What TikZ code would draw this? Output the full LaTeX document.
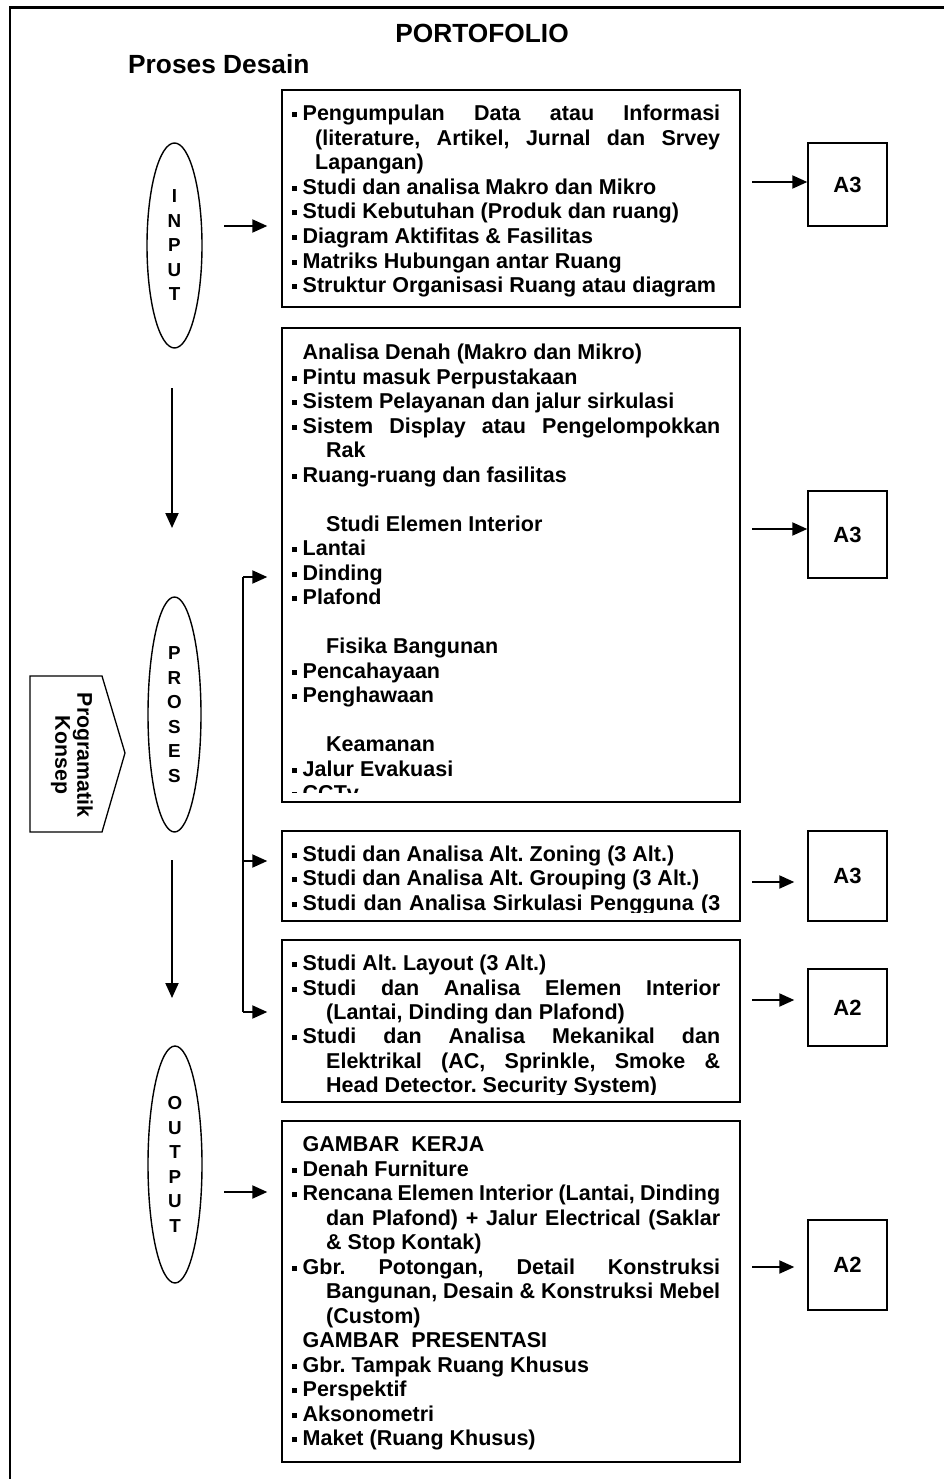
\documentclass[tikz,border=0pt]{standalone}
\usepackage{fontspec}
\setmainfont{Liberation Sans}
\usetikzlibrary{arrows.meta,shapes.geometric}
\frenchspacing
\newcommand\mybul{\makebox[10.5pt][l]{\rule[3.5pt]{5pt}{5pt}}}
\newcommand\jline[2]{\makebox[#1pt][s]{#2}}
\newcommand\txtline[4]{\node[txt] (#1) at (#2,#3) {#4};}
\begin{document}
\frenchspacing
\begin{tikzpicture}[x=1pt,y=-1pt,
  txt/.style={anchor=base west, inner sep=0pt, font=\fontsize{21.5}{24.5}\selectfont\bfseries\frenchspacing},
  dbox/.style={draw, line width=1.4pt, minimum width=458pt, inner sep=0pt},
  abox/.style={draw, line width=1.4pt, minimum width=79pt, inner sep=0pt, font=\fontsize{22}{24}\selectfont\bfseries},
  ell/.style={draw, ellipse, line width=1.4pt, inner sep=0pt, align=center, font=\fontsize{18.8}{24.5}\selectfont\bfseries},
  arr/.style={line width=2pt, -{Triangle[length=15pt,width=13pt]}},
  ttl/.style={inner sep=0pt, font=\fontsize{26.3}{28}\selectfont\bfseries},
]
\useasboundingbox (0,0) rectangle (944,1479);
% frame
\draw[line width=2.2pt] (944,7.5) -- (10,7.5);
\draw[line width=1.6pt] (10,6.5) -- (10,1479);
% titles
\node[ttl, anchor=base] (title) at (482,42.4) {PORTOFOLIO};
\node[ttl, anchor=base west] (sub) at (128,74) {Proses Desain};
% ellipses
\node[ell, minimum width=55pt, minimum height=205pt] (input) at (174.5,245.5) {I\\N\\P\\U\\T};
\node[ell, minimum width=53pt, minimum height=235pt] (proses) at (174.5,714.5) {P\\R\\O\\S\\E\\S};
\node[ell, minimum width=54pt, minimum height=237pt] (output) at (175,1164.5) {O\\U\\T\\P\\U\\T};
% programatik konsep
\draw[line width=1.3pt] (30,676) -- (102,676) -- (125,753) -- (102,832) -- (30,832) -- cycle;
\node[inner sep=0pt, rotate=-90, align=center, font=\fontsize{21.3}{22}\selectfont\bfseries] (prog) at (72,755) {Programatik\\Konsep};
% main boxes
\node[dbox, minimum height=217pt] (b1) at (511,198.5) {};
\node[dbox, minimum height=474pt] (b2) at (511,565) {};
\node[dbox, minimum height=90pt] (b3) at (511,876) {};
\node[dbox, minimum height=162pt] (b4) at (511,1021) {};
\node[dbox, minimum height=341pt] (b5) at (511,1291.5) {};
% A boxes
\node[abox, minimum height=83pt] (a1) at (847.5,184.5) {A3};
\node[abox, minimum height=87pt] (a2) at (847.5,534.5) {A3};
\node[abox, minimum height=90pt] (a3) at (847.5,876) {A3};
\node[abox, minimum height=77pt] (a4) at (847.5,1007.5) {A2};
\node[abox, minimum height=90pt] (a5) at (847.5,1265) {A2};
% box 1 text
\txtline{l11}{292}{120.5}{\mybul\jline{417.5}{Pengumpulan Data atau Informasi}}
\txtline{l12}{315}{145.1}{\jline{405}{(literature, Artikel, Jurnal dan Srvey}}
\txtline{l13}{315}{169.7}{Lapangan)}
\txtline{l14}{292}{194.3}{\mybul Studi dan analisa Makro dan Mikro}
\txtline{l15}{292}{218.9}{\mybul Studi Kebutuhan (Produk dan ruang)}
\txtline{l16}{292}{243.5}{\mybul Diagram Aktifitas \& Fasilitas}
\txtline{l17}{292}{268.1}{\mybul Matriks Hubungan antar Ruang}
\txtline{l18}{292}{292.7}{\mybul Struktur Organisasi Ruang atau diagram}
% box 2 text
\begin{scope}
\clip (282,328) rectangle (740,792);
\txtline{l21}{302.5}{359.6}{Analisa Denah (Makro dan Mikro)}
\txtline{l22}{292}{384.1}{\mybul Pintu masuk Perpustakaan}
\txtline{l23}{292}{408.6}{\mybul Sistem Pelayanan dan jalur sirkulasi}
\txtline{l24}{292}{433.1}{\mybul\jline{417.5}{Sistem Display atau Pengelompokkan}}
\txtline{l25}{326}{457.6}{Rak}
\txtline{l26}{292}{482.1}{\mybul Ruang-ruang dan fasilitas}
\txtline{l27}{326}{531.1}{Studi Elemen Interior}
\txtline{l28}{292}{555.6}{\mybul Lantai}
\txtline{l29}{292}{580.1}{\mybul Dinding}
\txtline{l210}{292}{604.6}{\mybul Plafond}
\txtline{l211}{326}{653.6}{Fisika Bangunan}
\txtline{l212}{292}{678.1}{\mybul Pencahayaan}
\txtline{l213}{292}{702.6}{\mybul Penghawaan}
\txtline{l214}{326}{751.6}{Keamanan}
\txtline{l215}{292}{776.1}{\mybul Jalur Evakuasi}
\txtline{l216}{292}{800.6}{\mybul CCTv}
\end{scope}
% box 3 text
\begin{scope}
\clip (282,831) rectangle (740,912);
\txtline{l31}{292}{861}{\mybul Studi dan Analisa Alt. Zoning (3 Alt.)}
\txtline{l32}{292}{885.5}{\mybul Studi dan Analisa Alt. Grouping (3 Alt.)}
\txtline{l33}{292}{910}{\mybul\jline{417.5}{Studi dan Analisa Sirkulasi Pengguna (3}}
\end{scope}
% box 4 text
\begin{scope}
\clip (282,940) rectangle (740,1094);
\txtline{l41}{292}{970.6}{\mybul Studi Alt. Layout (3 Alt.)}
\txtline{l42}{292}{995}{\mybul\jline{417.5}{Studi dan Analisa Elemen Interior}}
\txtline{l43}{326}{1019.4}{(Lantai, Dinding dan Plafond)}
\txtline{l44}{292}{1043.8}{\mybul\jline{417.5}{Studi dan Analisa Mekanikal dan}}
\txtline{l45}{326}{1068.2}{\jline{394}{Elektrikal (AC, Sprinkle, Smoke \&}}
\txtline{l46}{326}{1092.6}{Head Detector. Security System)}
\end{scope}
% box 5 text
\txtline{l51}{302.5}{1151.6}{GAMBAR\hspace{12pt}KERJA}
\txtline{l52}{292}{1176.1}{\mybul Denah Furniture}
\txtline{l53}{292}{1200.6}{\mybul\jline{417.5}{Rencana Elemen Interior (Lantai, Dinding}}
\txtline{l54}{326}{1225.1}{\jline{394}{dan Plafond) + Jalur Electrical (Saklar}}
\txtline{l55}{326}{1249.6}{\& Stop Kontak)}
\txtline{l56}{292}{1274.1}{\mybul\jline{417.5}{Gbr. Potongan, Detail Konstruksi}}
\txtline{l57}{326}{1298.6}{\jline{394}{Bangunan, Desain \& Konstruksi Mebel}}
\txtline{l58}{326}{1323.1}{(Custom)}
\txtline{l59}{302.5}{1347.6}{GAMBAR\hspace{12pt}PRESENTASI}
\txtline{l510}{292}{1372.1}{\mybul Gbr. Tampak Ruang Khusus}
\txtline{l511}{292}{1396.6}{\mybul Perspektif}
\txtline{l512}{292}{1421.1}{\mybul Aksonometri}
\txtline{l513}{292}{1445.6}{\mybul Maket (Ruang Khusus)}
% connectors: inputs/outputs
\coordinate (ci) at (224,226);
\draw[arr, shorten >=14pt] (ci) -- (ci -| b1.west);
\coordinate (co) at (224,1192);
\draw[arr, shorten >=14pt] (co) -- (co -| b5.west);
% vertical flow arrows
\coordinate (d1s) at (172,388);
\coordinate (d1e) at (172,528);
\draw[arr] (d1s) -- (d1e);
\coordinate (d2s) at (172,860);
\coordinate (d2e) at (172,998);
\draw[arr] (d2s) -- (d2e);
% bracket
\coordinate (k1) at (243,577);
\coordinate (k2) at (243,861);
\coordinate (k3) at (243,1012);
\draw[line width=1.6pt] (k1) -- (k3);
\draw[arr, shorten >=14pt] (k1) -- (k1 -| b2.west);
\draw[arr, shorten >=14pt] (k2) -- (k2 -| b3.west);
\draw[arr, shorten >=14pt] (k3) -- (k3 -| b4.west);
% arrows to paper sizes
\coordinate (p1) at (752,182);
\draw[arr] (p1) -- (p1 -| a1.west);
\coordinate (p2) at (752,529);
\draw[arr] (p2) -- (p2 -| a2.west);
\coordinate (p3) at (752,882);
\draw[arr, shorten >=13pt] (p3) -- (p3 -| a3.west);
\coordinate (p4) at (752,1000);
\draw[arr, shorten >=13pt] (p4) -- (p4 -| a4.west);
\coordinate (p5) at (752,1267);
\draw[arr, shorten >=13pt] (p5) -- (p5 -| a5.west);
\end{tikzpicture}
\end{document}
